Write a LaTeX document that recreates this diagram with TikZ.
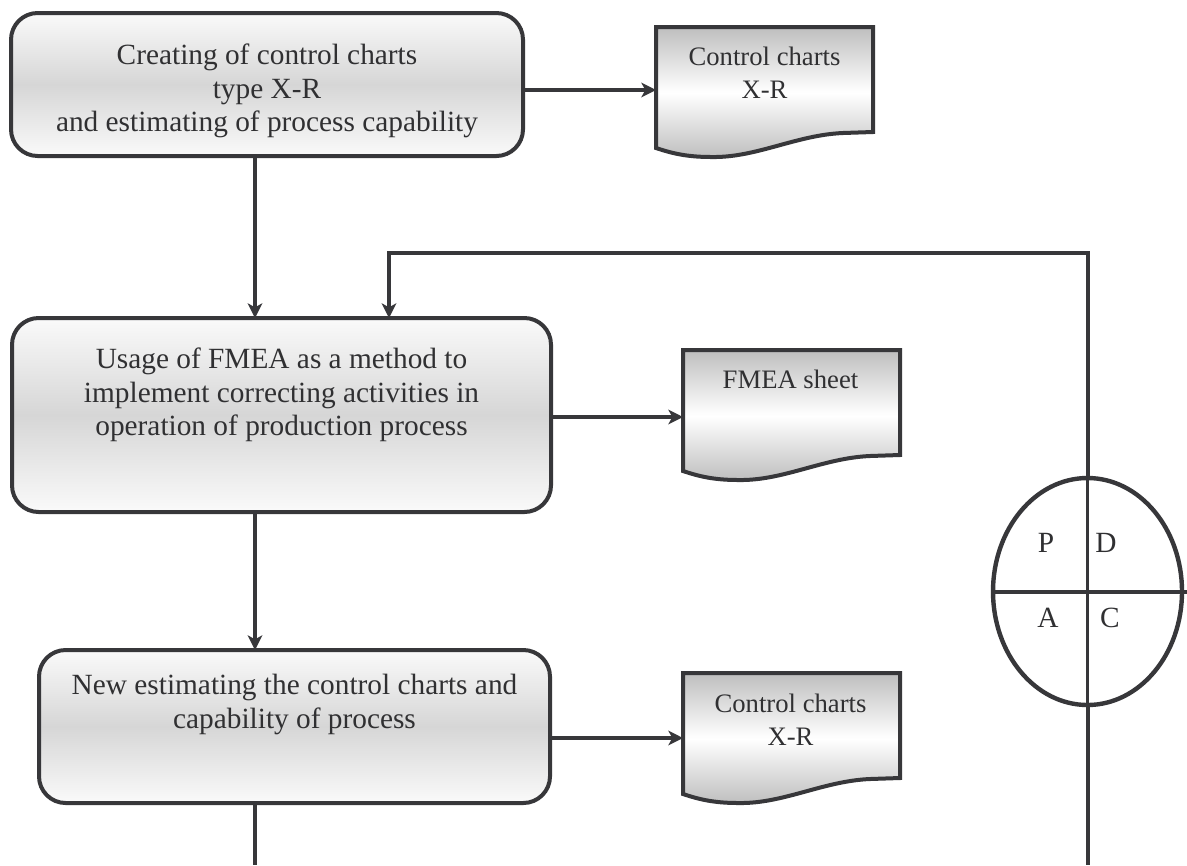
\documentclass[tikz,border=0pt]{standalone}
\usepackage{fontspec}
\setmainfont{Liberation Serif}
\usetikzlibrary{arrows.meta,shapes.geometric}
\definecolor{lc}{RGB}{55,55,58}
\definecolor{tc}{RGB}{48,48,50}
\definecolor{boxmid}{RGB}{214,214,214}
\definecolor{boxend}{RGB}{250,250,250}
\definecolor{docedge}{RGB}{190,190,190}
\tikzset{
  ln/.style={draw=lc, line width=3pt},
  arr/.style={ln, -{Stealth[length=11pt,width=11pt,inset=3pt]}},
  boxst/.style={ln, rectangle, rounded corners=20pt, top color=boxend, bottom color=boxend, middle color=boxmid, inner sep=0pt, outer sep=0pt},
  docshape/.style={ln, top color=docedge, bottom color=docedge, middle color=white},
  txt/.style={font=\fontsize{22}{25.3}\selectfont, text=tc, align=center, inner sep=0pt},
  doctxt/.style={txt, font=\fontsize{20}{24.8}\selectfont},
}
\newcommand\mydoc[2]{\shadedraw[docshape] (#1,#2) -- ({#1+217},#2) -- ({#1+217},{#2+105}) -- ({#1+187},{#2+106}) .. controls ({#1+140},{#2+108}) and ({#1+100},{#2+131}) .. ({#1+55},{#2+130}) .. controls ({#1+30},{#2+130}) and ({#1+15},{#2+126}) .. (#1,{#2+121}) -- cycle;}
\begin{document}
\begin{tikzpicture}[x=0.75pt,y=-0.75pt]
\useasboundingbox (0,0) rectangle (1187,865);
% process boxes
\node[boxst, minimum width=384pt, minimum height=107.25pt] (b1) at (267,84.5) {};
\node[boxst, minimum width=404.25pt, minimum height=145.5pt] (b2) at (281.5,415) {};
\node[boxst, minimum width=383.25pt, minimum height=114.75pt] (b3) at (294.5,726.5) {};
% documents
\mydoc{656}{27}
\mydoc{683}{350}
\mydoc{683}{673}
\coordinate (d1in) at (656,90);
\coordinate (d2in) at (683,417);
\coordinate (d3in) at (683,738);
% texts
\node[txt] (t1) at (267,91) {Creating of control charts\\type X-R\\and estimating of process capability};
\node[txt] (t2) at (281.5,395) {Usage of FMEA as a method to\\implement correcting activities in\\operation of production process};
\node[txt] (t3) at (294.5,704.5) {New estimating the control charts and\\capability of process};
\node[doctxt] (dt1) at (764.5,73) {Control charts\\X-R};
\node[doctxt] (dt2) at (790.5,379) {FMEA sheet};
\node[doctxt] (dt3) at (790.5,719.5) {Control charts\\X-R};
% PDCA circle
\node[ellipse, draw=lc, line width=3.3pt, minimum width=141.75pt, minimum height=170.25pt, inner sep=0pt, outer sep=0pt] (pdca) at (1087.5,591.5) {};
\draw[draw=lc, line width=1.9pt] (pdca.north) -- (pdca.south);
\coordinate (hx) at (1187,591.5);
\draw[ln] (pdca.west) -- (hx);
\node[txt] (lp) at (1046,543) {P};
\node[txt] (ld) at (1106,543) {D};
\node[txt] (la) at (1048,618) {A};
\node[txt] (lc2) at (1110,618) {C};
% connectors
\coordinate (vx) at (255,0);
\coordinate (fb) at (389,253);
\coordinate (bend) at (255,865);
\coordinate (pend) at (1087.5,865);
\draw[arr] (b1.east |- d1in) -- (d1in);
\draw[arr] (b2.east |- d2in) -- (d2in);
\draw[arr] (b3.east |- d3in) -- (d3in);
\draw[arr] (b1.south -| vx) -- (b2.north -| vx);
\draw[arr] (b2.south -| vx) -- (b3.north -| vx);
\draw[ln] (b3.south -| vx) -- (bend);
\draw[arr] (pdca.north) |- (fb) -- (b2.north -| fb);
\draw[ln] (pdca.south) -- (pend);
\end{tikzpicture}
\end{document}
